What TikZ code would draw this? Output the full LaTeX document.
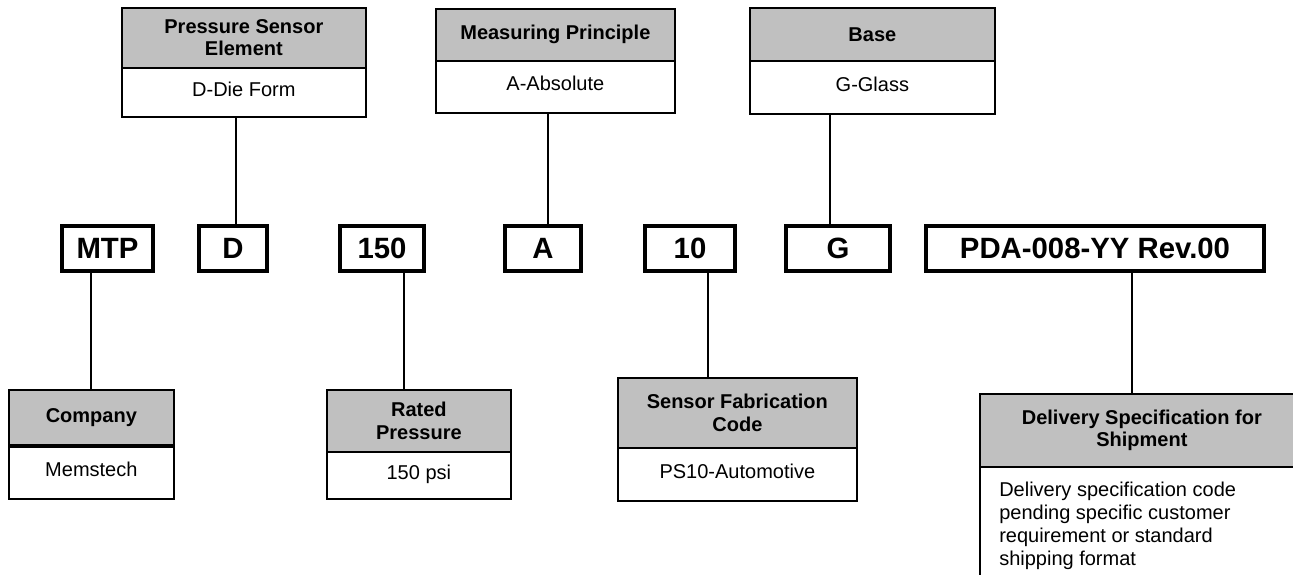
\documentclass[tikz,border=0pt]{standalone}
\usepackage{fontspec}
\setmainfont{Liberation Sans}
\begin{document}
\begin{tikzpicture}[x=0.75pt,y=-0.75pt,
  hdr/.style={draw, line width=1.3pt, fill=hdrgray, inner sep=0pt, align=center,
    font=\fontsize{15}{16.8}\selectfont\bfseries, anchor=north west},
  bdy/.style={draw, line width=1.3pt, fill=white, inner sep=0pt, align=center,
    text height=11pt, text depth=5pt,
    font=\fontsize{15}{17}\selectfont, anchor=north west},
  codebox/.style={draw, line width=2.3pt, inner sep=0pt, minimum height=33.75pt,
    font=\fontsize{22}{24}\selectfont\bfseries},
  link/.style={line width=1pt}]
\definecolor{hdrgray}{HTML}{C0C0C0}
\useasboundingbox (0,0) rectangle (1293,575);
\clip (0,0) rectangle (1293,575);

% a label box: gray heading cell over a white value cell
% #1 name, #2 left, #3 top, #4 right, #5 divider, #6 bottom, #7 heading, #8 value
\newcommand\catbox[8]{%
  \node[hdr, minimum width={(#4-#2)*0.75pt}, minimum height={(#5-#3)*0.75pt}]
    (#1h) at (#2,#3) {#7};
  \node[bdy, minimum width={(#4-#2)*0.75pt}, minimum height={(#6-#5)*0.75pt}]
    (#1) at (#2,#5) {#8};
}

% category boxes above the code
\catbox{pse}{121}{7}{365}{67}{116}{Pressure Sensor\\Element}{D-Die Form}
\catbox{mp}{435}{8}{674}{60}{112}{Measuring Principle}{A-Absolute}
\catbox{base}{749}{7}{994}{60}{113}{Base}{G-Glass}

% the part number, one box per field
\node[codebox, minimum width=68.25pt] (cMTP) at (107.5,248.5) {MTP};
\node[codebox, minimum width=51pt] (cD) at (233,248.5) {D};
\node[codebox, minimum width=63pt] (c150) at (382,248.5) {150};
\node[codebox, minimum width=57pt] (cA) at (543,248.5) {A};
\node[codebox, minimum width=67.5pt] (c10) at (690,248.5) {10};
\node[codebox, minimum width=78pt] (cG) at (838,248.5) {G};
\node[codebox, minimum width=253.5pt] (cPDA) at (1095,248.5) {PDA-008-YY Rev.00};

% category boxes below the code
\node[hdr, minimum width={(173-8)*0.75pt}, minimum height={(444-389)*0.75pt}]
  (comph) at (8,389) {Company};
\node[bdy, minimum width={(173-8)*0.75pt}, minimum height={(498-446)*0.75pt}]
  (comp) at (8,446) {Memstech};
\catbox{rp}{326}{389}{510}{451}{498}{Rated\\Pressure}{150 psi}
\catbox{sfc}{617}{377}{856}{447}{500}{Sensor Fabrication\\Code}{PS10-Automotive}

% delivery box: runs past the right and lower edges of the sheet
\node[hdr, minimum width={(1303-979)*0.75pt}, minimum height={(466-393)*0.75pt}]
  (dssh) at (979,393) {Delivery Specification for\\Shipment};
\node[draw, line width=1.3pt, inner sep=0pt, anchor=north west,
  minimum width={(1303-979)*0.75pt}, minimum height={(600-466)*0.75pt}]
  (dss) at (979,466) {};
\node[anchor=north west, align=left, inner sep=0pt,
  font=\fontsize{15}{17.1}\selectfont] (dsst) at (999,482)
  {Delivery specification code\\pending specific customer\\requirement or standard\\shipping format};

% leader lines at fixed x positions
\coordinate (xD) at (236,0);
\coordinate (xA) at (548,0);
\coordinate (xG) at (830,0);
\coordinate (xM) at (91,0);
\coordinate (x150) at (404,0);
\coordinate (x10) at (708,0);
\coordinate (xP) at (1132,0);
\draw[link] (pse.south -| xD) -- (cD.north -| xD);
\draw[link] (mp.south -| xA) -- (cA.north -| xA);
\draw[link] (base.south -| xG) -- (cG.north -| xG);
\draw[link] (cMTP.south -| xM) -- (comph.north -| xM);
\draw[link] (c150.south -| x150) -- (rph.north -| x150);
\draw[link] (c10.south -| x10) -- (sfch.north -| x10);
\draw[link] (cPDA.south -| xP) -- (dssh.north -| xP);
\end{tikzpicture}
\end{document}
